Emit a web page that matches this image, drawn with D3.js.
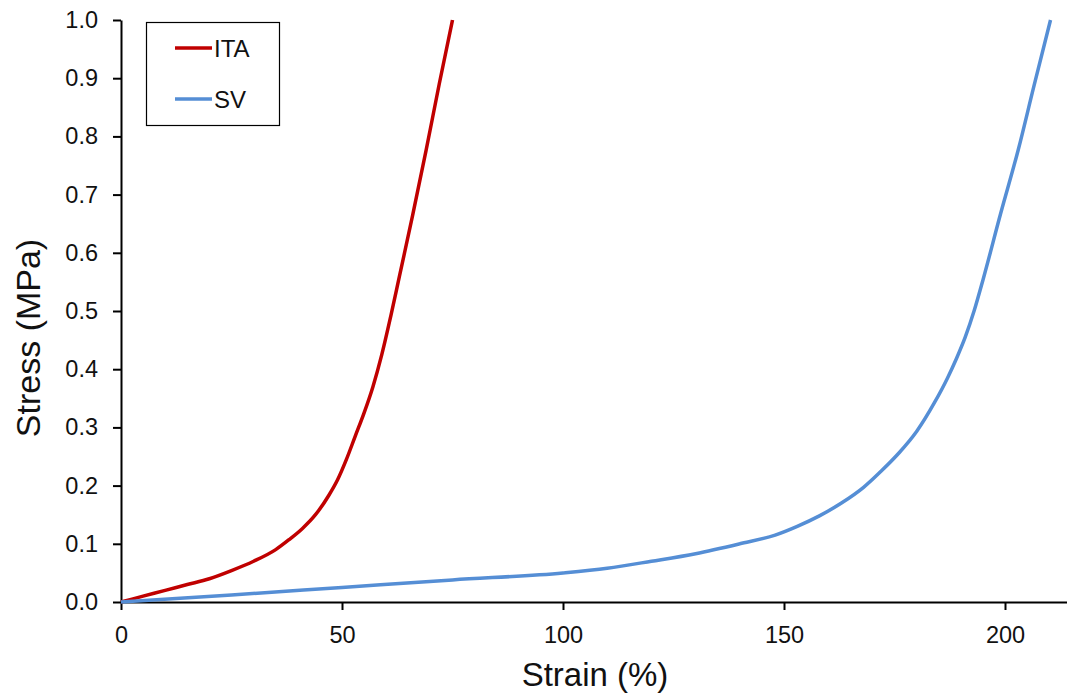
<!DOCTYPE html>
<html>
<head>
<meta charset="utf-8">
<script src="https://cdn.jsdelivr.net/npm/d3@7"></script>
<style>
  html, body { margin: 0; padding: 0; background: #fff; }
  svg { display: block; font-family: "Liberation Sans", Arial, sans-serif; }
</style>
</head>
<body>
<svg id="chart" width="1067" height="695"></svg>
<script>
// Stress–strain curves for the two materials
const itaStrain = [0, 5, 10, 15, 20, 25, 30, 35, 38, 41, 44, 47, 49, 51, 53, 55, 57, 59, 61, 63, 66, 69, 72, 75];
const itaStress = [0, 0.010, 0.020, 0.030, 0.040, 0.054, 0.070, 0.090, 0.107, 0.126, 0.150, 0.183, 0.210, 0.245, 0.285, 0.325, 0.370, 0.425, 0.490, 0.560, 0.665, 0.775, 0.890, 1.0];

const svStrain = [0, 25, 50, 75, 100, 110, 120, 130, 140, 148, 153, 158, 163, 168, 172, 176, 180, 184, 187, 189, 191, 193, 195, 199, 203, 206.5, 210.3];
const svStress = [0, 0.012, 0.025, 0.038, 0.050, 0.058, 0.070, 0.083, 0.100, 0.115, 0.130, 0.148, 0.170, 0.197, 0.225, 0.256, 0.293, 0.342, 0.385, 0.418, 0.455, 0.500, 0.553, 0.667, 0.777, 0.885, 1.0];

const seriesNames = ["ITA", "SV"];
const seriesColors = ["#C00000", "#558ED5"];

const xTicks = [0, 50, 100, 150, 200];
const yTicks = [0, 0.1, 0.2, 0.3, 0.4, 0.5, 0.6, 0.7, 0.8, 0.9, 1.0];

const svg = d3.select("#chart");
const x0 = 121, x200 = 1005;
const x = d3.scaleLinear().domain([0, 200]).range([x0, x200]);
const xMax = x.invert(1067);
const y = d3.scaleLinear().domain([0, 1]).range([602, 20]);

const series = [
  { name: seriesNames[0], color: seriesColors[0], pts: itaStrain.map((s, i) => [s, itaStress[i]]) },
  { name: seriesNames[1], color: seriesColors[1], pts: svStrain.map((s, i) => [s, svStress[i]]) }
];

// Axes
const xAxis = svg.append("g")
  .attr("transform", `translate(0,${y(0)})`)
  .call(d3.axisBottom(x.copy().domain([0, xMax]).range([x0, 1067]))
    .tickValues(xTicks).tickSize(8).tickSizeOuter(0).tickPadding(16)
    .tickFormat(d3.format("d")));

const yAxis = svg.append("g")
  .attr("transform", `translate(${x0},0)`)
  .call(d3.axisLeft(y).tickValues(yTicks).tickSize(8).tickSizeOuter(0).tickPadding(15)
    .tickFormat(d3.format(".1f")));

[xAxis, yAxis].forEach(g => {
  g.selectAll("path.domain").attr("stroke", "#000").attr("stroke-width", 2);
  g.selectAll(".tick line").attr("stroke", "#000").attr("stroke-width", 2);
  g.selectAll(".tick text").attr("fill", "#111").style("font-size", "23.5px")
    .style("font-family", "'Liberation Sans', Arial, sans-serif");
});

// Curves
const line = d3.line().x(d => x(d[0])).y(d => y(d[1])).curve(d3.curveMonotoneX);
svg.append("g").selectAll("path.curve")
  .data(series).join("path")
  .attr("class", "curve")
  .attr("d", d => line(d.pts))
  .attr("fill", "none")
  .attr("stroke", d => d.color)
  .attr("stroke-width", 3.5)
  .attr("stroke-linejoin", "round");

// Axis titles
svg.append("text")
  .attr("x", 595).attr("y", 686)
  .attr("text-anchor", "middle")
  .style("font-size", "33px").attr("fill", "#111")
  .text("Strain (%)");

svg.append("text")
  .attr("transform", `translate(40,338) rotate(-90)`)
  .attr("text-anchor", "middle")
  .style("font-size", "34px").attr("fill", "#111")
  .text("Stress (MPa)");

// Legend
const legend = svg.append("g");
legend.append("rect")
  .attr("x", 146.5).attr("y", 22.5).attr("width", 133).attr("height", 103)
  .attr("fill", "#fff").attr("stroke", "#000").attr("stroke-width", 1.2);
const items = legend.selectAll("g.item").data(series).join("g")
  .attr("class", "item")
  .attr("transform", (d, i) => `translate(0,${48 + i * 51})`);
items.append("line")
  .attr("x1", 175).attr("x2", 212).attr("y1", 0).attr("y2", 0)
  .attr("stroke", d => d.color).attr("stroke-width", 3.5);
items.append("text")
  .attr("x", 214).attr("y", 9)
  .style("font-size", "24px").attr("fill", "#111")
  .text(d => d.name);
</script>
</body>
</html>
